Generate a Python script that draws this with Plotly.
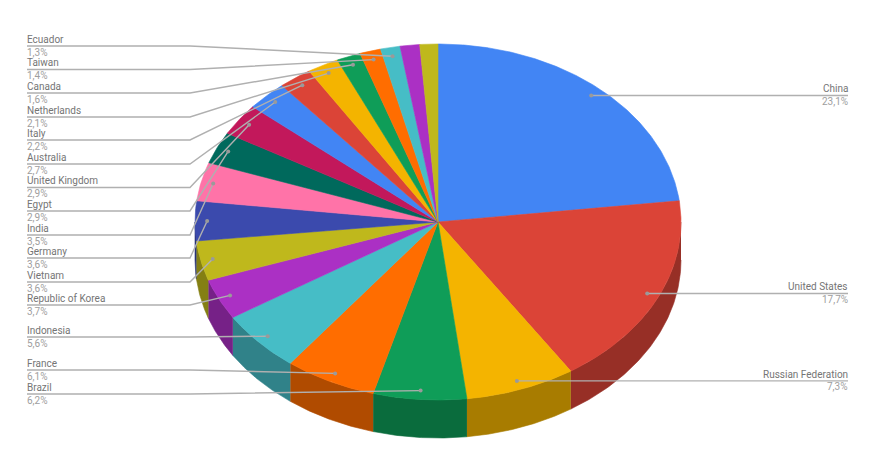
import numpy as np
import plotly.graph_objects as go

countries = ["China", "United States", "Russian Federation", "Brazil", "France", "Indonesia",
             "Republic of Korea", "Vietnam", "Germany", "India", "Egypt", "United Kingdom",
             "Australia", "Italy", "Netherlands", "Canada", "Taiwan", "Ecuador", "", ""]
shares = [23.1, 17.7, 7.3, 6.2, 6.1, 5.6, 3.7, 3.6, 3.6, 3.5, 2.9, 2.9, 2.7, 2.2, 2.1, 1.6, 1.4, 1.3, 1.3, 1.2]
colors = ["#4285f4", "#db4437", "#f4b400", "#0f9d58", "#ff6d00", "#46bdc6", "#ab30c4", "#bfb81c",
          "#3b4aad", "#ff73a8", "#00695c", "#c2185b", "#4285f4", "#db4437", "#f4b400", "#0f9d58",
          "#ff6d00", "#46bdc6", "#ab30c4", "#bfb81c"]
label_y = [95, 294, 381, 394, 370, 337, 305, 282, 258, 235, 211, 187.5, 164, 140, 117, 93, 69.5, 46, None, None]

CX, CY, RX, RY, DEPTH = 438, 222, 243, 178, 38
W, H = 875, 461
LEFT_X, ELBOW_X, RIGHT_X = 27, 190, 848
NAME_COLOR, VALUE_COLOR, LINE_COLOR, DOT_COLOR = "#757575", "#9e9e9e", "#b0b0b0", "#9a9a9a"
SHADE = 0.69


def shade(hex_color):
    rgb = [int(hex_color[i:i + 2], 16) for i in (1, 3, 5)]
    return "rgb({},{},{})".format(*[round(c * SHADE) for c in rgb])


def ex(t, r=1.0):
    return CX + r * RX * np.sin(t)


def ey(t, r=1.0):
    return CY - r * RY * np.cos(t)


edges = np.concatenate([[0], np.cumsum(shares)]) / sum(shares) * 2 * np.pi
fig = go.Figure()


def polygon(xs, ys, color):
    fig.add_trace(go.Scatter(x=xs, y=ys, mode="lines", fill="toself", fillcolor=color,
                             line=dict(color=color, width=0.6), hoverinfo="skip", showlegend=False))


# Side wall: only the front half of the disc shows
for i, c in enumerate(colors):
    a, b = max(edges[i], np.pi / 2), min(edges[i + 1], 3 * np.pi / 2)
    if b <= a:
        continue
    t = np.linspace(a, b, 80)
    xs = np.concatenate([ex(t), ex(t)[::-1]])
    ys = np.concatenate([ey(t), ey(t)[::-1] + DEPTH])
    polygon(xs, ys, shade(c))

# Top face
for i, c in enumerate(colors):
    t = np.linspace(edges[i], edges[i + 1], max(8, int((edges[i + 1] - edges[i]) * 120)))
    polygon(np.concatenate([[CX], ex(t), [CX]]), np.concatenate([[CY], ey(t), [CY]]), c)

# Leader lines, dots and labels
annotations = []
for i, name in enumerate(countries):
    if not name:
        continue
    mid = (edges[i] + edges[i + 1]) / 2
    dx, dy, ly = ex(mid, 0.95), ey(mid, 0.95), label_y[i]
    right = mid < np.pi
    if right:
        xs, ys, anchor, tx = [dx, RIGHT_X], [dy, dy], "right", RIGHT_X
        ly = dy
    else:
        xs, ys, anchor, tx = [LEFT_X, ELBOW_X, dx], [ly, ly, dy], "left", LEFT_X
    fig.add_trace(go.Scatter(x=xs, y=ys, mode="lines", line=dict(color=LINE_COLOR, width=1.4),
                             hoverinfo="skip", showlegend=False))
    fig.add_trace(go.Scatter(x=[dx], y=[dy], mode="markers", marker=dict(color=DOT_COLOR, size=4),
                             hoverinfo="skip", showlegend=False))
    annotations.append(dict(x=tx, y=ly - 1.2, text=name, xanchor=anchor, yanchor="bottom", showarrow=False,
                            font=dict(family="Roboto", size=10, color=NAME_COLOR), xref="x", yref="y",
                            borderpad=0, borderwidth=0))
    annotations.append(dict(x=tx, y=ly + 0.5, text=f"{shares[i]:.1f}%".replace(".", ","), xanchor=anchor,
                            yanchor="top", showarrow=False,
                            font=dict(family="Roboto", size=10, color=VALUE_COLOR), xref="x", yref="y",
                            borderpad=0, borderwidth=0))

fig.update_layout(
    width=W, height=H, margin=dict(l=0, r=0, t=0, b=0), paper_bgcolor="white", plot_bgcolor="white",
    showlegend=False, annotations=annotations,
    xaxis=dict(range=[0, W], visible=False, fixedrange=True),
    yaxis=dict(range=[H, 0], visible=False, fixedrange=True),
)
fig.write_html("out.html", config={"displayModeBar": False},
               post_script="document.body.style.margin='0';document.documentElement.style.overflow='hidden';")
